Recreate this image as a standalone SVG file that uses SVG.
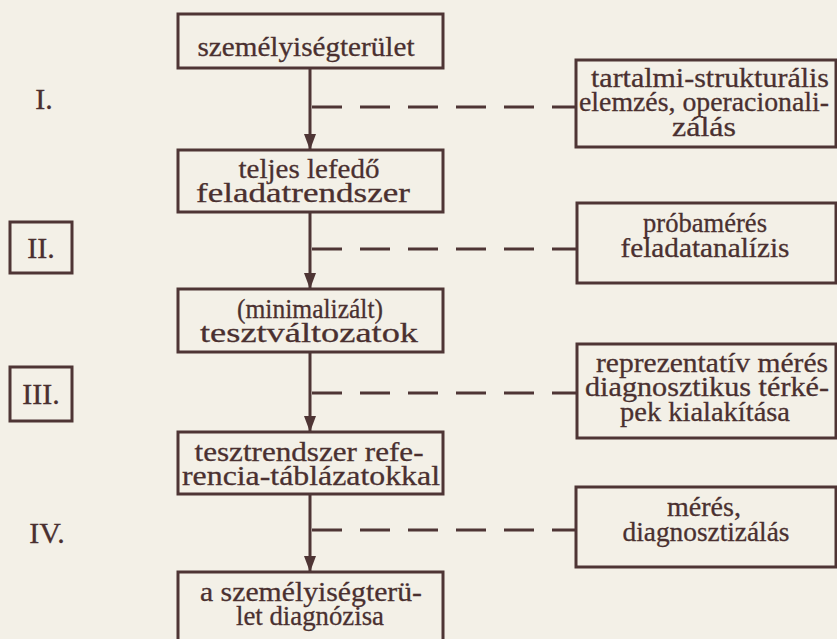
<svg xmlns="http://www.w3.org/2000/svg" width="837" height="639" viewBox="0 0 837 639">
<style>
.bg{fill:#f3f0e7}
.box{fill:none;stroke:#4e3535;stroke-width:3}
.t{font-family:"Liberation Serif","Times New Roman",serif;font-size:28px;fill:#4a3030;stroke:#4a3030;stroke-width:0.3;text-anchor:middle}
.lab{font-family:"Liberation Serif","Times New Roman",serif;font-size:30px;fill:#4a3030;stroke:#4a3030;stroke-width:0.3;text-anchor:middle}
.ln{stroke:#4e3535;stroke-width:3;fill:none}
.d{stroke:#4e3535;stroke-width:3;fill:none;stroke-dasharray:30 18}
.ah{fill:#4e3535}
</style>
<rect class="bg" x="0" y="0" width="837" height="639"/>

<g id="connectors">
<line class="d" x1="312" y1="107" x2="576" y2="107"/>
<line class="d" x1="312" y1="249" x2="577" y2="249"/>
<line class="d" x1="312" y1="393" x2="577" y2="393"/>
<line class="d" x1="312" y1="530" x2="576" y2="530"/>
<path class="ln" d="M310,68 V150"/>
<path class="ln" d="M310,212 V289"/>
<path class="ln" d="M310,352 V432"/>
<path class="ln" d="M310,494 V572"/>
<path class="ah" d="M304,134 L316,134 L310,150 Z"/>
<path class="ah" d="M304,273 L316,273 L310,289 Z"/>
<path class="ah" d="M304,416 L316,416 L310,432 Z"/>
<path class="ah" d="M304,556 L316,556 L310,572 Z"/>
</g>

<g id="n1">
<rect class="box" x="178" y="14" width="265" height="54"/>
<text class="t" x="306" y="56" textLength="217" lengthAdjust="spacingAndGlyphs">személyiségterület</text>
</g>
<g id="n2">
<rect class="box" x="178" y="150" width="265" height="62"/>
<text class="t" x="309" y="178" textLength="141" lengthAdjust="spacingAndGlyphs">teljes lefedő</text>
<text class="t" x="303" y="202" textLength="214" lengthAdjust="spacingAndGlyphs">feladatrendszer</text>
</g>
<g id="n3">
<rect class="box" x="178" y="289" width="265" height="63"/>
<text class="t" x="310" y="318" textLength="146" lengthAdjust="spacingAndGlyphs">(minimalizált)</text>
<text class="t" x="309" y="342" textLength="218" lengthAdjust="spacingAndGlyphs">tesztváltozatok</text>
</g>
<g id="n4">
<rect class="box" x="178" y="432" width="265" height="62"/>
<text class="t" x="309" y="461" textLength="229" lengthAdjust="spacingAndGlyphs">tesztrendszer refe-</text>
<text class="t" x="311" y="485" textLength="258" lengthAdjust="spacingAndGlyphs">rencia-táblázatokkal</text>
</g>
<g id="n5">
<rect class="box" x="178" y="572" width="265" height="80"/>
<text class="t" x="311" y="601" textLength="222" lengthAdjust="spacingAndGlyphs">a személyiségterü-</text>
<text class="t" x="310" y="625" textLength="148" lengthAdjust="spacingAndGlyphs">let diagnózisa</text>
</g>

<g id="r1">
<rect class="box" x="576" y="60" width="260" height="87"/>
<text class="t" x="710" y="87" textLength="238" lengthAdjust="spacingAndGlyphs">tartalmi-strukturális</text>
<text class="t" x="704" y="111" textLength="250" lengthAdjust="spacingAndGlyphs">elemzés, operacionali-</text>
<text class="t" x="704" y="136" textLength="64" lengthAdjust="spacingAndGlyphs">zálás</text>
</g>
<g id="r2">
<rect class="box" x="577" y="203" width="259" height="80"/>
<text class="t" x="705" y="232" textLength="124" lengthAdjust="spacingAndGlyphs">próbamérés</text>
<text class="t" x="705" y="257" textLength="169" lengthAdjust="spacingAndGlyphs">feladatanalízis</text>
</g>
<g id="r3">
<rect class="box" x="577" y="344" width="259" height="94"/>
<text class="t" x="712" y="372" textLength="232" lengthAdjust="spacingAndGlyphs">reprezentatív mérés</text>
<text class="t" x="707" y="396" textLength="244" lengthAdjust="spacingAndGlyphs">diagnosztikus térké-</text>
<text class="t" x="705" y="421" textLength="170" lengthAdjust="spacingAndGlyphs">pek kialakítása</text>
</g>
<g id="r4">
<rect class="box" x="576" y="487" width="260" height="80"/>
<text class="t" x="704" y="516" textLength="74" lengthAdjust="spacingAndGlyphs">mérés,</text>
<text class="t" x="706" y="541" textLength="167" lengthAdjust="spacingAndGlyphs">diagnosztizálás</text>
</g>

<g id="l1"><text class="lab" x="44" y="109">I.</text></g>
<g id="l2"><rect class="box" x="10" y="222" width="62" height="51"/><text class="lab" x="41" y="258">II.</text></g>
<g id="l3"><rect class="box" x="10" y="367" width="62" height="54"/><text class="lab" x="41" y="404">III.</text></g>
<g id="l4"><text class="lab" x="47" y="543">IV.</text></g>
</svg>
